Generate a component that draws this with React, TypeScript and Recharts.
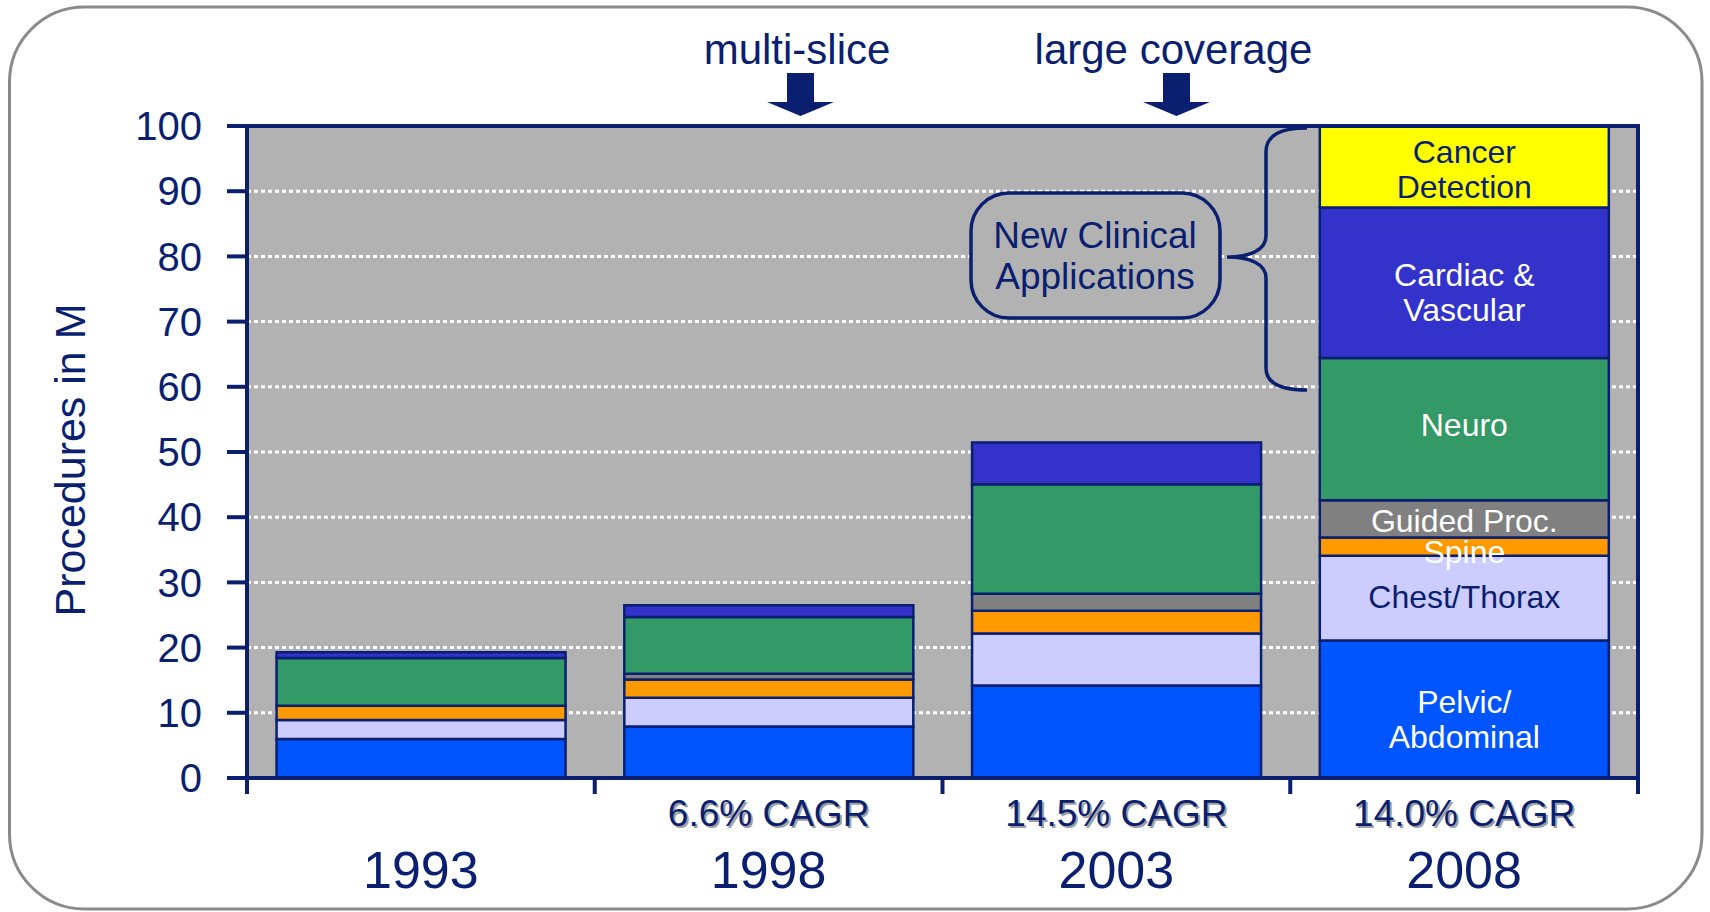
import React from 'react';
import { BarChart, Bar, XAxis, YAxis, CartesianGrid, LabelList } from 'recharts';

// ---------- data ----------
const years = ['1993', '1998', '2003', '2008'];
const cagrLabels = ['', '6.6% CAGR', '14.5% CAGR', '14.0% CAGR'];

const pelvic = [6.0, 7.9, 14.2, 21.1];
const chest = [2.9, 4.4, 7.95, 13.0];
const spine = [2.2, 2.8, 3.5, 2.8];
const guided = [0, 0.9, 2.6, 5.7];
const neuro = [7.3, 8.7, 16.8, 21.8];
const cardiac = [0.9, 1.8, 6.4, 23.1];
const cancer = [0, 0, 0, 12.5];

const yTicks = [0, 10, 20, 30, 40, 50, 60, 70, 80, 90, 100];

const seriesKeys = ['pelvic', 'chest', 'spine', 'guided', 'neuro', 'cardiac', 'cancer'];
const seriesValues = [pelvic, chest, spine, guided, neuro, cardiac, cancer];
const seriesNames = ['Pelvic/Abdominal', 'Chest/Thorax', 'Spine', 'Guided Proc.', 'Neuro', 'Cardiac & Vascular', 'Cancer Detection'];
const segmentLabelLines = [
  ['Pelvic/', 'Abdominal'],
  ['Chest/Thorax'],
  ['Spine'],
  ['Guided Proc.'],
  ['Neuro'],
  ['Cardiac &', 'Vascular'],
  ['Cancer', 'Detection'],
];
const labelledYearIndex = 3;

const annotationTop = ['multi-slice', 'large coverage'];
const boxLines = ['New Clinical', 'Applications'];
const yAxisTitle = 'Procedures in M';

// ---------- styles ----------
const NAVY = '#0a1f6f';
const FONT = '"Liberation Sans", Arial, sans-serif';
const seriesColors = ['#0055FF', '#CCCCFF', '#FF9900', '#808080', '#339966', '#3333CC', '#FFFF00'];
const labelColors = ['#ffffff', NAVY, '#ffffff', '#ffffff', '#ffffff', '#ffffff', NAVY];
const labelNudge = [10, -1, 5, 2, -4, 10, 3];

const W = 1710;
const H = 912;
const MARGIN = { top: 126, right: 72, bottom: 34, left: 97 };
const Y_AXIS_W = 150;
const X_AXIS_H = 100;
const PLOT_LEFT = MARGIN.left + Y_AXIS_W;
const PLOT_TOP = MARGIN.top;
const PLOT_W = W - PLOT_LEFT - MARGIN.right;
const PLOT_H = H - MARGIN.top - MARGIN.bottom - X_AXIS_H;
const BAND = PLOT_W / years.length;

const data = years.map((year, i) => {
  const row: Record<string, string | number> = { year };
  seriesKeys.forEach((k, si) => {
    row[k] = seriesValues[si][i];
  });
  return row;
});

const makeSegmentLabel = (si: number) => (props: any) => {
  const { x, y, width, height } = props;
  const cx = Number(x) + Number(width) / 2;
  const catIndex = Math.floor((cx - PLOT_LEFT) / BAND);
  if (catIndex !== labelledYearIndex) return null;
  const lines = segmentLabelLines[si];
  const cy = Number(y) + Number(height) / 2 + labelNudge[si];
  const lh = 35;
  return (
    <text textAnchor="middle" fontSize={32} fontFamily={FONT} fill={labelColors[si]}>
      {lines.map((l, i) => (
        <tspan key={i} x={cx} y={cy + (i - (lines.length - 1) / 2) * lh + 11}>
          {l}
        </tspan>
      ))}
    </text>
  );
};

const XTick = (props: any) => {
  const { x, y, payload } = props;
  const i = payload.index;
  const half = typeof payload.offset === 'number' && payload.offset > 0 ? payload.offset : BAND / 2;
  return (
    <g>
      {i === 0 && <line x1={x - half} y1={y} x2={x - half} y2={y + 16} stroke={NAVY} strokeWidth={4} />}
      <line x1={x + half} y1={y} x2={x + half} y2={y + 16} stroke={NAVY} strokeWidth={4} />
      {cagrLabels[i] && (
        <g fontFamily={FONT} fontSize={37} textAnchor="middle">
          <text x={x + 2} y={y + 50} fill="#a0a0a0">{cagrLabels[i]}</text>
          <text x={x} y={y + 48} fill={NAVY}>{cagrLabels[i]}</text>
        </g>
      )}
      <text x={x} y={y + 110} textAnchor="middle" fontFamily={FONT} fontSize={52} fill={NAVY}>
        {payload.value}
      </text>
    </g>
  );
};

const Arrow = ({ cx }: { cx: number }) => (
  <path
    d={`M${cx - 13.5},73 L${cx + 13.5},73 L${cx + 13.5},102 L${cx + 33.5},102 L${cx},116 L${cx - 33.5},102 L${cx - 13.5},102 Z`}
    fill={NAVY}
  />
);

export default function App() {
  return (
    <div style={{ position: 'absolute', left: 0, top: 0, width: W, height: H, background: '#fff' }}>
      <BarChart width={W} height={H} data={data} margin={MARGIN} barCategoryGap="8.5%">
        <CartesianGrid
          horizontal
          vertical={false}
          fill="#B2B2B2"
          fillOpacity={1}
          stroke="#ffffff"
          strokeWidth={3}
          strokeDasharray="4 3"
        />
        <XAxis
          dataKey="year"
          height={X_AXIS_H}
          interval={0}
          tickLine={false}
          tickSize={0}
          tickMargin={0}
          axisLine={{ stroke: NAVY, strokeWidth: 4 }}
          tick={(p: any) => <XTick {...p} />}
        />
        <YAxis
          width={Y_AXIS_W}
          domain={[0, 100]}
          ticks={yTicks}
          interval={0}
          tickSize={20}
          tickMargin={25}
          tickLine={{ stroke: NAVY, strokeWidth: 4 }}
          axisLine={{ stroke: NAVY, strokeWidth: 4 }}
          tick={{ fill: NAVY, fontSize: 40, fontFamily: FONT }}
        />
        {seriesKeys.map((k, si) => (
          <Bar
            key={k}
            dataKey={k}
            name={seriesNames[si]}
            stackId="a"
            fill={seriesColors[si]}
            stroke={NAVY}
            strokeWidth={2.5}
            isAnimationActive={false}
          >
            <LabelList dataKey={k} content={makeSegmentLabel(si)} />
          </Bar>
        ))}
      </BarChart>

      <svg width={W} height={H} style={{ position: 'absolute', left: 0, top: 0, pointerEvents: 'none' }}>
        <rect x={9.5} y={7} width={1692.5} height={902} rx={75} ry={75} fill="none" stroke="#8a8a8a" strokeWidth={3} />

        {/* plot frame: top and right edges */}
        <path
          d={`M${PLOT_LEFT},${PLOT_TOP} L${PLOT_LEFT + PLOT_W},${PLOT_TOP} L${PLOT_LEFT + PLOT_W},${PLOT_TOP + PLOT_H}`}
          fill="none"
          stroke={NAVY}
          strokeWidth={4}
        />

        <text x={85} y={460} transform="rotate(-90, 85, 460)" textAnchor="middle" fontFamily={FONT} fontSize={43} fill={NAVY}>
          {yAxisTitle}
        </text>

        <text x={797} y={64} textAnchor="middle" fontFamily={FONT} fontSize={42} fill={NAVY}>{annotationTop[0]}</text>
        <text x={1173.5} y={64} textAnchor="middle" fontFamily={FONT} fontSize={42} fill={NAVY}>{annotationTop[1]}</text>
        <Arrow cx={800.5} />
        <Arrow cx={1176.5} />

        <rect x={971} y={193} width={249} height={125} rx={38} ry={38} fill="#B2B2B2" stroke={NAVY} strokeWidth={3.5} />
        <text textAnchor="middle" fontFamily={FONT} fontSize={37} fill={NAVY}>
          <tspan x={1095} y={248}>{boxLines[0]}</tspan>
          <tspan x={1095} y={289}>{boxLines[1]}</tspan>
        </text>

        <path
          d="M1307,128 C1280,128 1266,135 1266,152 L1266,236 C1266,250 1250,257 1227,257 C1250,257 1266,264 1266,278 L1266,368 C1266,383 1280,390 1307,390"
          fill="none"
          stroke={NAVY}
          strokeWidth={3.5}
        />
      </svg>
    </div>
  );
}
